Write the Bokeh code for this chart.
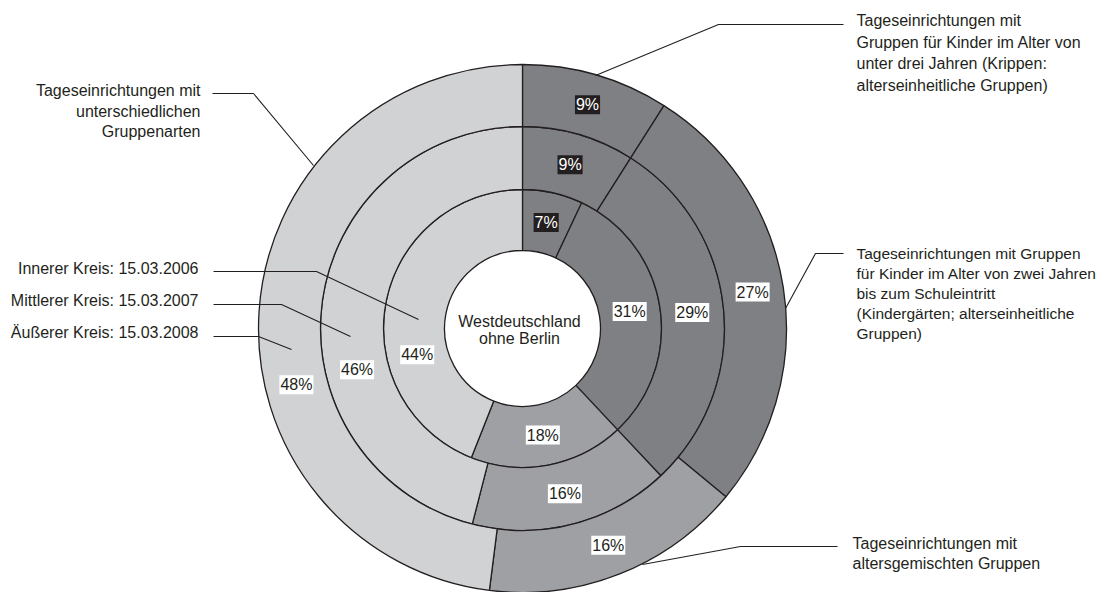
import math
from bokeh.plotting import figure
from bokeh.models import Range1d, ColumnDataSource
from bokeh.embed import file_html
from bokeh.resources import INLINE
from bokeh.core.properties import value

# ---------------- data ----------------
categories = ["Krippen", "Kindergärten", "Altersgemischt", "Unterschiedlich"]
ring_names = ["Innerer Kreis: 15.03.2006", "Mittlerer Kreis: 15.03.2007", "Äußerer Kreis: 15.03.2008"]
inner_2006 = [7, 31, 18, 44]
middle_2007 = [9, 29, 16, 46]
outer_2008 = [9, 27, 16, 48]
center_lines = ["Westdeutschland", "ohne Berlin"]

label_krippen = ["Tageseinrichtungen mit", "Gruppen für Kinder im Alter von",
                 "unter drei Jahren (Krippen:", "alterseinheitliche Gruppen)"]
label_kiga = ["Tageseinrichtungen mit Gruppen", "für Kinder im Alter von zwei Jahren",
              "bis zum Schuleintritt", "(Kindergärten; alterseinheitliche", "Gruppen)"]
label_gemischt = ["Tageseinrichtungen mit", "altersgemischten Gruppen"]
label_unterschied = ["Tageseinrichtungen mit", "unterschiedlichen", "Gruppenarten"]

# ---------------- style ----------------
FONT = value("Liberation Sans")
colors = ["#7f8084", "#7f8084", "#9fa0a4", "#d1d2d4"]
box_colors = ["#231f20", "#ffffff", "#ffffff", "#ffffff"]
txt_colors = ["#ffffff", "#231f20", "#231f20", "#231f20"]
EDGE = "#231f20"

W, H = 1109, 592
CX, CY = 522, -328
radii = [78, 139, 202, 264]

p = figure(width=W, height=H, output_backend="svg", toolbar_location=None,
           x_range=Range1d(0, W), y_range=Range1d(-H, 0),
           x_axis_type=None, y_axis_type=None, min_border=0)
p.outline_line_color = None
p.grid.visible = False

def pt(r, frac_deg):
    a = math.radians(frac_deg)
    return CX + r * math.sin(a), CY + r * math.cos(a)

lab = dict(x=[], y=[], t=[], bg=[], tc=[])
for ri, vals in enumerate([inner_2006, middle_2007, outer_2008]):
    r0, r1 = radii[ri], radii[ri + 1]
    tot = sum(vals)
    cum = 0
    starts, ends = [], []
    for v in vals:
        starts.append(math.pi / 2 - 2 * math.pi * cum / tot)
        cum += v
        ends.append(math.pi / 2 - 2 * math.pi * cum / tot)
    src = ColumnDataSource(dict(s=starts, e=ends, c=colors))
    p.annular_wedge(x=CX, y=CY, inner_radius=r0, outer_radius=r1,
                    start_angle="s", end_angle="e", direction="clock",
                    fill_color="c", line_color=EDGE, line_width=1.3, source=src)
    cum = 0
    rm = (r0 + r1) / 2
    for ci, v in enumerate(vals):
        mid = (cum + v / 2) / tot * 360
        cum += v
        if categories[ci] == "Unterschiedlich":
            mid = 256
        x, y = pt(rm, mid)
        lab["x"].append(x); lab["y"].append(y)
        lab["t"].append(f"{v}%")
        lab["bg"].append(box_colors[ci]); lab["tc"].append(txt_colors[ci])

p.text(x="x", y="y", text="t", source=ColumnDataSource(lab), text_align="center",
       text_baseline="middle", text_font=FONT, text_font_size="16px",
       text_color="tc", background_fill_color="bg", padding=1)

# center text
for i, s in enumerate(center_lines):
    p.text(x=[519], y=[-321 - 17 * i], text=[s], text_align="center", text_baseline="middle",
           text_font=FONT, text_font_size="16px", text_color="#231f20")

# leader lines (screen coordinates, y negated)
def leader(pts):
    p.line(x=[a for a, b in pts], y=[-b for a, b in pts], line_color=EDGE, line_width=1.1)

leader([(212, 93), (253, 93), (313, 165)])
leader([(595, 75), (718, 24), (843, 24)])
leader([(785, 308), (815, 253), (843, 253)])
leader([(642, 564), (740, 546), (837, 546)])
leader([(213, 271), (316, 271), (418, 319)])
leader([(213, 304), (281, 304), (350, 336)])
leader([(213, 336), (258, 336), (291, 349)])

def block(lines, x, y0, dy, align, size="16px"):
    for i, s in enumerate(lines):
        p.text(x=[x], y=[-(y0 + dy * i)], text=[s], text_align=align, text_baseline="middle",
               text_font=FONT, text_font_size=size, text_color="#231f20")

block(label_unterschied, 200, 90, 20.5, "right")
block(ring_names, 198, 268, 32, "right")
block(label_krippen, 856, 20, 21.7, "left")
block(label_kiga, 856, 253, 20, "left", "15.5px")
block(label_gemischt, 852, 543, 20, "left")

open("out.html", "w").write(file_html(p, INLINE))
